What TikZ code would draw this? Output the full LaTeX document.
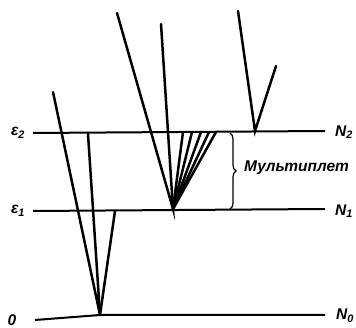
\documentclass[tikz,border=0pt]{standalone}
\usepackage{fontspec}
\setmainfont{Liberation Sans}
\usetikzlibrary{decorations.pathreplacing}
\tikzset{
  level/.style={line width=2pt},
  ray/.style={line width=2.5pt, line cap=round},
  lbl/.style={font=\fontsize{15.5}{15.5}\selectfont\bfseries\itshape, inner sep=0pt}
}

\begin{document}
\begin{tikzpicture}[x=1pt,y=-1pt]
      \useasboundingbox (0,0) rectangle (356,328);
      % levels
      \coordinate (e2L) at (33,133); \coordinate (e2R) at (325,131);
      \coordinate (e1L) at (33,211); \coordinate (e1R) at (325,209);
      \coordinate (zL) at (35,320); \coordinate (zR) at (325,315);
      \coordinate (v0) at (100,315); \coordinate (v1) at (173,209); \coordinate (v2) at (255,131);
      \draw[level] (e2L) -- (e2R);
      \draw[level] (e1L) -- (e1R);
      \draw[level] (zL) -- (v0) -- (zR);
      \node[lbl] (le2) at (18,133) {ε\textsubscript{2}};
      \node[lbl] (le1) at (18,211) {ε\textsubscript{1}};
      \node[lbl] (lz) at (12,320) {0};
      \node[lbl] (n2) at (344,132) {N\textsubscript{2}};
      \node[lbl] (n1) at (344,211) {N\textsubscript{1}};
      \node[lbl] (n0) at (345,316) {N\textsubscript{0}};
      % rays to the ground level
      \coordinate (a1) at (53,92); \coordinate (a2) at (88,134); \coordinate (a3) at (115,211);
      \draw[ray] (a1) -- (v0) -- (a2);
      \draw[ray] (a3) -- (v0);
      % rays to the first level
      \coordinate (b1) at (117,13); \coordinate (b2) at (161,24);
      \draw[ray] (b1) -- (v1) -- (b2);
      \foreach \x [count=\i] in {183,192,201,209,216} {
        \coordinate (f\i) at (\x,132);
        \draw[ray] (f\i) -- (v1);
      }
      % rays to the second level
      \coordinate (c1) at (238,11); \coordinate (c2) at (276,66);
      \draw[ray] (c1) -- (v2) -- (c2);
      % multiplet
      \coordinate (brT) at (230,133); \coordinate (brB) at (230,209);
      \draw[line width=1.2pt, decorate, decoration={brace, amplitude=6pt}] (brT) -- (brB);
      \node[lbl, anchor=west] (mult) at (244,168) {Мультиплет};
    \end{tikzpicture}
\end{document}
